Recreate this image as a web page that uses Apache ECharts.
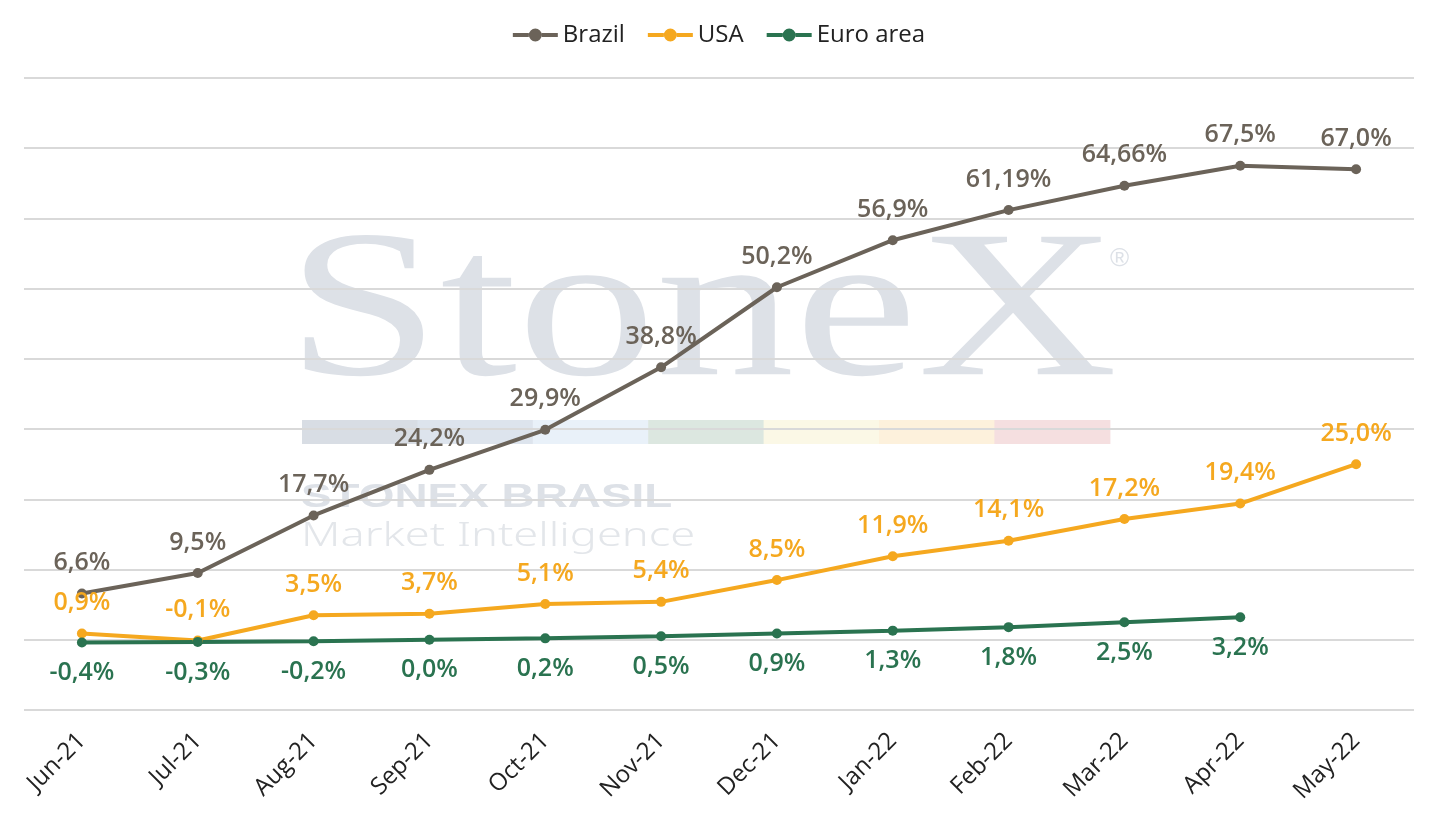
<!DOCTYPE html>
<html>
<head>
<meta charset="utf-8">
<script src="https://cdn.jsdelivr.net/npm/echarts@6/dist/echarts.min.js"></script>
<style>
html,body{margin:0;padding:0;background:#fff;}
#chart{width:1438px;height:827px;}
</style>
</head>
<body>
<div id="chart"></div>
<script>
const categories = ['Jun-21','Jul-21','Aug-21','Sep-21','Oct-21','Nov-21','Dec-21','Jan-22','Feb-22','Mar-22','Apr-22','May-22'];
const brazil = [6.6, 9.5, 17.7, 24.2, 29.9, 38.8, 50.2, 56.9, 61.19, 64.66, 67.5, 67.0];
const usa = [0.9, -0.1, 3.5, 3.7, 5.1, 5.4, 8.5, 11.9, 14.1, 17.2, 19.4, 25.0];
const euro = [-0.4, -0.3, -0.2, 0.0, 0.2, 0.5, 0.9, 1.3, 1.8, 2.5, 3.2, null];
const yMin = -10, yMax = 80, yStep = 10;

const colors = { brazil: '#6b6359', usa: '#f5a81f', euro: '#2a7350' };
const FONT = '"Open Sans"';
const LEGEND_ICON = 'path://M0,4.5L16,4.5L16,8.5L0,8.5Z M29,4.5L45,4.5L45,8.5L29,8.5Z M16,6.5A6.5,6.5 0 1,1 29,6.5A6.5,6.5 0 1,1 16,6.5Z';

function fmt(v) {
  const dec = Math.abs(Math.round(v * 10) - v * 10) < 1e-6 ? 1 : 2;
  return v.toFixed(dec).replace('.', ',') + '%';
}

function makeSeries(name, data, color, pos) {
  return {
    name: name,
    type: 'line',
    data: data,
    symbol: 'circle',
    symbolSize: 10,
    lineStyle: { width: 4, color: color },
    itemStyle: { color: color },
    label: {
      show: true,
      position: pos,
      distance: 13,
      color: color,
      fontFamily: FONT,
      fontSize: 25,
      fontWeight: 600,
      formatter: p => fmt(p.value)
    },
    z: 5
  };
}

const wm = '#dde1e7';
const barColors = ['#d8dde4','#dde4ed','#e9f1f9','#dce7e0','#fbf8e6','#fdf1dc','#f5dfe0'];
const graphics = [
  { type: 'text', x: 286, y: 214, z: -10, scaleX: 1.32,
    style: { text: 'StoneX', font: '210px "Liberation Serif"', fill: wm } },
  { type: 'text', x: 1110, y: 246, z: -10,
    style: { text: '®', font: '26px "Liberation Sans"', fill: wm } },
  { type: 'text', x: 301, y: 481, z: -10, scaleX: 1.39,
    style: { text: 'STONEX BRASIL', font: 'bold 33px "Liberation Sans"', fill: wm } },
  { type: 'text', x: 301, y: 520, z: -10, scaleX: 1.37,
    style: { text: 'Market Intelligence', font: '300 33px "Noto Sans"', fill: '#e3e6ea' } }
];
barColors.forEach((c, i) => {
  graphics.push({ type: 'rect', z: -10, shape: { x: 302 + i * 115.4, y: 420, width: 116, height: 24 }, style: { fill: c } });
});

const chart = echarts.init(document.getElementById('chart'));
chart.setOption({
  animation: false,
  backgroundColor: '#fff',
  graphic: graphics,
  legend: {
    top: 18,
    left: 'center',
    itemWidth: 45,
    itemHeight: 13,
    itemGap: 23,
    textStyle: { fontFamily: FONT, fontSize: 24, color: '#222' },
    data: [
      { name: 'Brazil', icon: LEGEND_ICON },
      { name: 'USA', icon: LEGEND_ICON },
      { name: 'Euro area', icon: LEGEND_ICON }
    ]
  },
  grid: { left: 24, right: 24, top: 78, bottom: 117, containLabel: false },
  xAxis: {
    type: 'category',
    data: categories,
    boundaryGap: true,
    axisLine: { show: false },
    axisTick: { show: false },
    axisLabel: { rotate: 45, margin: 27, fontFamily: FONT, fontSize: 24, color: '#222' }
  },
  yAxis: {
    type: 'value',
    min: yMin, max: yMax, interval: yStep,
    axisLabel: { show: false },
    axisLine: { show: false },
    axisTick: { show: false },
    splitLine: { lineStyle: { color: '#d9d9d9', width: 2 } }
  },
  series: [
    makeSeries('Brazil', brazil, colors.brazil, 'top'),
    makeSeries('USA', usa, colors.usa, 'top'),
    makeSeries('Euro area', euro, colors.euro, 'bottom')
  ]
});
</script>
</body>
</html>
